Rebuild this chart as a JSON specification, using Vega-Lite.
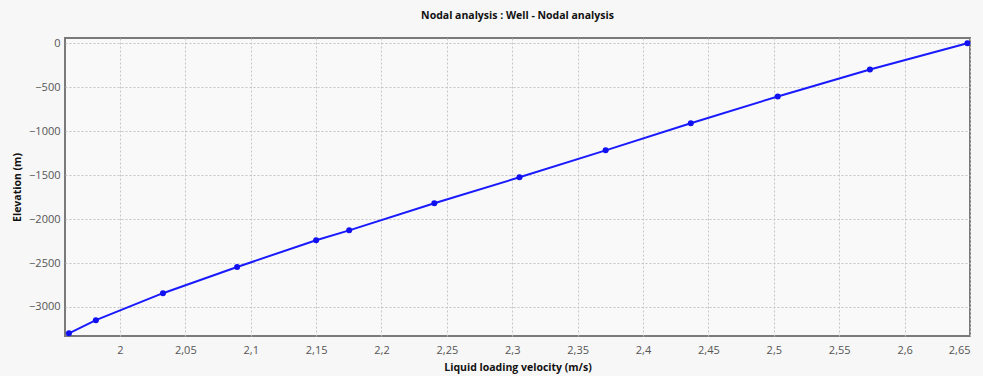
{
  "$schema": "https://vega.github.io/schema/vega-lite/v6.json",
  "autosize": {"type": "none"},
  "padding": {"left": 65, "top": 38, "right": 13, "bottom": 40},
  "width": 905,
  "height": 298,
  "background": "#f7f7f7",
  "title": {
    "text": "Nodal analysis : Well - Nodal analysis",
    "font": "Open Sans",
    "fontSize": 10.5,
    "fontWeight": "bold",
    "color": "#111",
    "anchor": "middle",
    "offset": 16
  },
  "config": {
    "view": {"stroke": "#7a7a7a", "strokeWidth": 2, "fill": "#f9f9f9"},
    "axis": {
      "labelFont": "Open Sans",
      "labelFontSize": 11,
      "labelColor": "#555",
      "titleFont": "Open Sans",
      "titleFontSize": 10.5,
      "titleFontWeight": "bold",
      "titleColor": "#111",
      "grid": true,
      "gridColor": "#c4c4c4",
      "gridDash": [2, 2],
      "gridWidth": 1,
      "domain": false,
      "ticks": false
    }
  },
  "data": {
    "values": [
      {"velocity": 1.961, "elevation": -3300},
      {"velocity": 1.9816, "elevation": -3150},
      {"velocity": 2.0329, "elevation": -2843},
      {"velocity": 2.0896, "elevation": -2545},
      {"velocity": 2.150, "elevation": -2240},
      {"velocity": 2.1753, "elevation": -2128},
      {"velocity": 2.2404, "elevation": -1820},
      {"velocity": 2.3055, "elevation": -1525},
      {"velocity": 2.3714, "elevation": -1218},
      {"velocity": 2.4365, "elevation": -910},
      {"velocity": 2.503, "elevation": -605},
      {"velocity": 2.5735, "elevation": -298},
      {"velocity": 2.648, "elevation": 0}
    ]
  },
  "encoding": {
    "x": {
      "field": "velocity",
      "type": "quantitative",
      "title": "Liquid loading velocity (m/s)",
      "scale": {"domain": [1.958, 2.65], "nice": false, "zero": false},
      "axis": {
        "values": [2, 2.05, 2.1, 2.15, 2.2, 2.25, 2.3, 2.35, 2.4, 2.45, 2.5, 2.55, 2.6, 2.65],
        "labelExpr": "replace(format(datum.value, '~g'), '.', ',')",
        "labelPadding": 8,
        "titlePadding": 7
      }
    },
    "y": {
      "field": "elevation",
      "type": "quantitative",
      "title": "Elevation (m)",
      "scale": {"domain": [-3330, 60], "nice": false, "zero": false},
      "axis": {
        "values": [0, -500, -1000, -1500, -2000, -2500, -3000],
        "format": "d",
        "labelPadding": 5,
        "titlePadding": 6
      }
    }
  },
  "layer": [
    {"mark": {"type": "line", "color": "#1a1aff", "strokeWidth": 2}},
    {"mark": {"type": "point", "filled": true, "color": "#1010f0", "size": 36, "opacity": 1}}
  ]
}
